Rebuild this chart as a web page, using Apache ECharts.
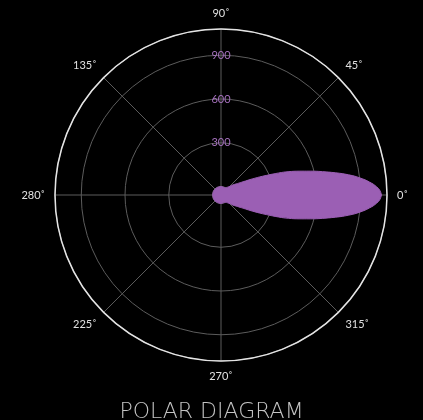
<!DOCTYPE html>
<html>
<head>
<meta charset="utf-8">
<script src="https://cdn.jsdelivr.net/npm/echarts@6/dist/echarts.min.js"></script>
<style>
html,body{margin:0;padding:0;background:#000;}
#chart{width:423px;height:420px;}
</style>
</head>
<body>
<div id="chart"></div>
<script>
// Angle ticks (degrees) and the labels printed at them
const angleTicks = [0, 45, 90, 135, 180, 225, 270, 315];
const angleTickLabels = ['0˚', '45˚', '90˚', '135˚', '280˚', '225˚', '270˚', '315˚'];
// Radius tick labels
const radiusTicks = [300, 600, 900];
const radiusMax = 1080;
// Lobe outline: angle (deg) and radius value
const lobeAngles = [-180, -150, -120, -90, -60, -50, -44, -40, -36, -32, -28, -25, -22, -20, -18, -16, -14, -12, -10, -8, -6, -4, -2,
  0, 2, 4, 6, 8, 10, 12, 14, 16, 18, 20, 22, 25, 28, 32, 36, 40, 44, 50, 60, 90, 120, 150, 180];
const lobeValues = [0, 0, 0, 0, 0, 12, 28, 50, 72, 105, 167, 236, 325, 400, 468, 535, 615, 697, 786, 868, 935, 990, 1028,
  1042, 1028, 990, 935, 868, 786, 697, 615, 535, 468, 400, 325, 236, 167, 105, 72, 50, 28, 12, 0, 0, 0, 0, 0];

const lobeColor = '#9b5fb4';
const chart = echarts.init(document.getElementById('chart'), null, {renderer: 'canvas'});
const center = [221, 195];
const option = {
  backgroundColor: '#000',
  animation: false,
  title: {
    text: 'POLAR DIAGRAM',
    left: 'center',
    top: 396,
    textStyle: {color: '#c4c4c4', fontSize: 22, fontWeight: 200, fontFamily: 'DejaVu Sans'}
  },
  polar: [
    {center: center, radius: [8.5, 166]},
    {center: center, radius: [0, 166]}
  ],
  angleAxis: [
    {
      polarIndex: 0, type: 'value', min: 0, max: 360, startAngle: 90, show: false
    },
    {
      polarIndex: 1, type: 'value', min: -180, max: 180, interval: 45,
      startAngle: 180, clockwise: false,
      axisLine: {lineStyle: {color: '#e4e4e4', width: 1.5}},
      axisTick: {show: false},
      axisLabel: {
        margin: 10, color: '#e0e0e0', fontSize: 11, fontFamily: 'Lato',
        formatter: function (v) {
          const n = ((Math.round(v) % 360) + 360) % 360;
          const i = angleTicks.indexOf(n);
          return i >= 0 ? angleTickLabels[i] : '';
        }
      },
      splitLine: {lineStyle: {color: '#5c5c5c', width: 1}}
    }
  ],
  radiusAxis: [
    {
      polarIndex: 0, type: 'value', min: 0, max: radiusMax, interval: 300,
      axisLine: {show: false}, axisTick: {show: false},
      splitLine: {lineStyle: {color: '#5c5c5c', width: 1}},
      axisLabel: {
        margin: 0, align: 'center', verticalAlign: 'middle',
        color: '#a571bd', fontSize: 11, fontFamily: 'Lato',
        formatter: function (v) { return radiusTicks.indexOf(v) >= 0 ? String(v) : ''; }
      }
    },
    {
      polarIndex: 1, type: 'value', min: -58, max: radiusMax, show: false,
      axisLine: {show: false}, axisTick: {show: false}, axisLabel: {show: false}, splitLine: {show: false}
    }
  ],
  series: [{
    type: 'line',
    coordinateSystem: 'polar',
    polarIndex: 1,
    symbol: 'none',
    smooth: 0.2,
    lineStyle: {color: lobeColor, width: 1},
    areaStyle: {color: lobeColor, opacity: 1, origin: 'start'},
    data: lobeAngles.map(function (a, i) { return [lobeValues[i], a]; })
  }]
};
chart.setOption(option);
</script>
</body>
</html>
